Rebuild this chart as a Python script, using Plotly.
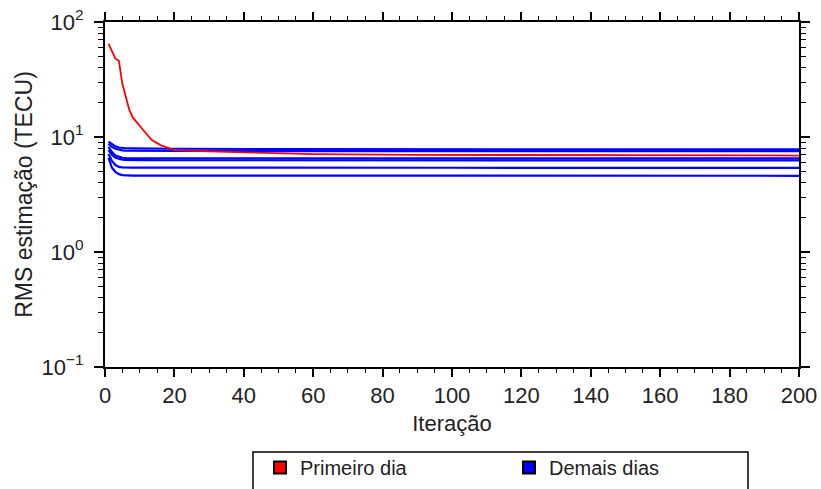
import plotly.graph_objects as go

# Red series: "Primeiro dia"
red_iter = [1, 3, 4, 5, 7, 8, 11, 13.5, 16, 19, 20, 30, 45, 60, 90, 140, 200]
red_rms = [65, 48, 46, 29, 17.2, 14.8, 11.5, 9.4, 8.5, 7.95, 7.7, 7.5, 7.3, 7.1, 7.0, 6.95, 6.9]

# Blue series: "Demais dias"
blue_iter = [1, 2, 3, 4, 5, 6, 8, 10, 20, 50, 100, 150, 200]
blue_rms = [
    [9.1, 8.7, 8.3, 8.1, 8.0, 7.98, 7.95, 7.93, 7.9, 7.85, 7.82, 7.8, 7.8],
    [8.7, 8.2, 7.9, 7.75, 7.65, 7.6, 7.58, 7.57, 7.56, 7.55, 7.55, 7.54, 7.53],
    [8.2, 7.4, 6.9, 6.7, 6.6, 6.57, 6.55, 6.54, 6.53, 6.53, 6.52, 6.52, 6.51],
    [7.7, 7.0, 6.6, 6.45, 6.35, 6.32, 6.3, 6.29, 6.28, 6.27, 6.27, 6.26, 6.26],
    [7.1, 6.2, 5.7, 5.5, 5.45, 5.42, 5.41, 5.41, 5.40, 5.40, 5.40, 5.39, 5.39],
    [6.6, 5.4, 4.98, 4.75, 4.66, 4.63, 4.62, 4.62, 4.61, 4.61, 4.61, 4.60, 4.60],
]

legend_names = ["Primeiro dia", "Demais dias"]
legend_colors = ["#ff0000", "#0000ff"]

y_tickvals = [0.1, 1, 10, 100]
y_ticktext = ["10<sup>\u22121</sup>", "10<sup>0</sup>", "10<sup>1</sup>", "10<sup>2</sup>"]
y_minor_vals = [m * d for d in (0.1, 1, 10) for m in range(2, 10)]

fig = go.Figure()

for series in blue_rms:
    fig.add_trace(go.Scatter(x=blue_iter, y=series, mode="lines",
                             line=dict(color="#0000ff", width=2.2), showlegend=False,
                             hoverinfo="skip"))

fig.add_trace(go.Scatter(x=red_iter, y=red_rms, mode="lines",
                         line=dict(color="#ff0000", width=1.8), showlegend=False,
                         hoverinfo="skip"))

# legend entries (square markers)
for name, col in zip(legend_names, legend_colors):
    fig.add_trace(go.Scatter(x=[None], y=[None], mode="markers", name=name,
                             marker=dict(symbol="square", size=14, color=col,
                                         line=dict(color="black", width=1.2))))

font = "Liberation Sans, Arial, Helvetica, sans-serif"

W, H = 821, 489
L, T, PW, PH = 105, 22, 694, 345

fig.update_layout(
    width=W, height=H,
    margin=dict(l=L, r=W - L - PW, t=T, b=H - T - PH, autoexpand=False),
    paper_bgcolor="white", plot_bgcolor="white",
    font=dict(family=font, size=22, color="#222222"),
    showlegend=True,
    legend=dict(orientation="h", xref="container", yref="container",
                x=260 / W, y=1 - 448 / H, xanchor="left", yanchor="top",
                bgcolor="rgba(0,0,0,0)", borderwidth=0,
                font=dict(size=20, color="#222222"),
                entrywidth=204, entrywidthmode="pixels",
                itemsizing="constant"),
    shapes=[dict(type="rect", xref="paper", yref="paper",
                 x0=(253 - L) / PW, x1=(748 - L) / PW,
                 y0=(T + PH - 500) / PH, y1=(T + PH - 452) / PH,
                 line=dict(color="black", width=1.5), fillcolor="rgba(0,0,0,0)")],
)

fig.update_xaxes(
    range=[0, 200], dtick=20, tick0=0, automargin=False,
    showline=True, linecolor="black", linewidth=2, mirror="ticks",
    ticks="outside", ticklen=8, tickwidth=1.5, tickcolor="black",
    minor=dict(dtick=5, tick0=0, ticks="outside", ticklen=4, tickwidth=1.2, tickcolor="black", showgrid=False),
    showgrid=False, zeroline=False, ticklabeloverflow="allow",
    tickfont=dict(size=22),
    title=dict(text="Iteração", font=dict(size=22), standoff=8),
)

fig.update_yaxes(
    type="log", range=[-1, 2], automargin=False,
    tickvals=y_tickvals, ticktext=y_ticktext,
    showline=True, linecolor="black", linewidth=2, mirror="ticks",
    ticks="outside", ticklen=9, tickwidth=1.5, tickcolor="black",
    ticklabelstandoff=6, ticklabeloverflow="allow",
    minor=dict(tickvals=y_minor_vals, ticks="outside", ticklen=5, tickwidth=1.2, tickcolor="black", showgrid=False),
    showgrid=False, zeroline=False,
    tickfont=dict(size=22),
    title=dict(text="RMS estimação (TECU)", font=dict(size=23), standoff=3),
)

fig.write_html("out.html", config={"displayModeBar": False},
               post_script="document.body.style.margin='0';")
